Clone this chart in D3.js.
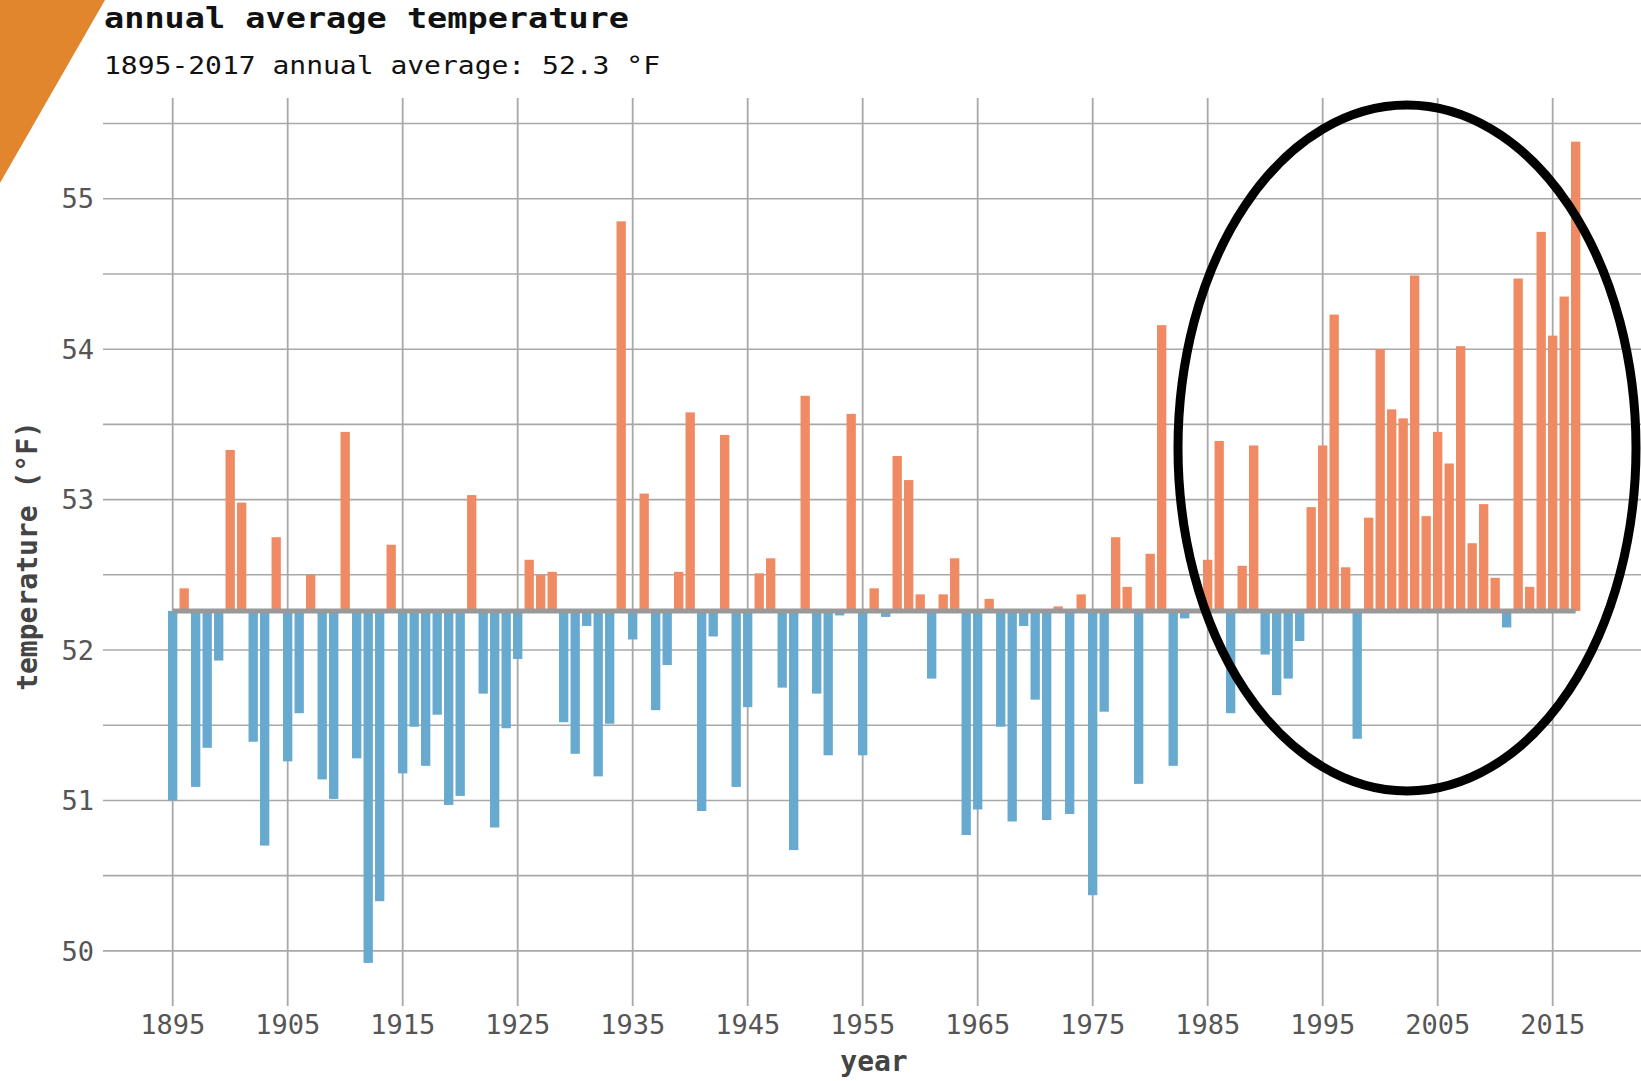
<!DOCTYPE html>
<html>
<head>
<meta charset="utf-8">
<script src="https://cdn.jsdelivr.net/npm/d3@7"></script>
<style>
  body { margin: 0; background: #fff; }
  svg { display: block; }
  text { font-family: "DejaVu Sans Mono", monospace; }
</style>
</head>
<body>
<div id="chart"></div>
<script>
// data
var years = d3.range(1895, 2018);
var temps = [
  51.00, 52.41, 51.09, 51.35, 51.93, 53.33, 52.98, 51.39, 50.70, 52.75,
  51.26, 51.58, 52.50, 51.14, 51.01, 53.45, 51.28, 49.92, 50.33, 52.70,
  51.18, 51.49, 51.23, 51.57, 50.97, 51.03, 53.03, 51.71, 50.82, 51.48,
  51.94, 52.60, 52.50, 52.52, 51.52, 51.31, 52.16, 51.16, 51.51, 54.85,
  52.07, 53.04, 51.60, 51.90, 52.52, 53.58, 50.93, 52.09, 53.43, 51.09,
  51.62, 52.51, 52.61, 51.75, 50.67, 53.69, 51.71, 51.30, 52.23, 53.57,
  51.30, 52.41, 52.22, 53.29, 53.13, 52.37, 51.81, 52.37, 52.61, 50.77,
  50.94, 52.34, 51.49, 50.86, 52.16, 51.67, 50.87, 52.29, 50.91, 52.37,
  50.37, 51.59, 52.75, 52.42, 51.11, 52.64, 54.16, 51.23, 52.21, 52.26,
  52.60, 53.39, 51.58, 52.56, 53.36, 51.97, 51.70, 51.81, 52.06, 52.95,
  53.36, 54.23, 52.55, 51.41, 52.88, 54.00, 53.60, 53.54, 54.49, 52.89,
  53.45, 53.24, 54.02, 52.71, 52.97, 52.48, 52.15, 54.47, 52.42, 54.78,
  54.09, 54.35, 55.38
];
var average = 52.26;
var xTicks = [1895, 1905, 1915, 1925, 1935, 1945, 1955, 1965, 1975, 1985, 1995, 2005, 2015];
var yTicks = [50, 51, 52, 53, 54, 55];
var yGrid = [50, 50.5, 51, 51.5, 52, 52.5, 53, 53.5, 54, 54.5, 55, 55.5];

var svgWidth = 1641;
var svgHeight = 1081;

var plot = { left: 103, right: 1641, top: 98, bottom: 1006 };

var svg = d3.select("#chart")
  .append("svg")
  .attr("width", svgWidth)
  .attr("height", svgHeight);

var xScale = d3.scaleLinear()
  .domain([1888.94, 2022.68])
  .range([plot.left, plot.right]);

var yScale = d3.scaleLinear()
  .domain([49.64, 55.67])
  .range([1005, plot.top]);

var barWidth = (xScale(1) - xScale(0)) * 0.81;

// grid
var gridGroup = svg.append("g");

gridGroup.selectAll(".hgrid")
  .data(yGrid)
  .enter()
  .append("line")
  .attr("x1", plot.left)
  .attr("x2", plot.right)
  .attr("y1", d => yScale(d))
  .attr("y2", d => yScale(d))
  .attr("stroke", "#a8a8a8")
  .attr("stroke-width", 1.6);

gridGroup.selectAll(".vgrid")
  .data(xTicks)
  .enter()
  .append("line")
  .attr("x1", d => xScale(d))
  .attr("x2", d => xScale(d))
  .attr("y1", plot.top)
  .attr("y2", plot.bottom)
  .attr("stroke", "#a8a8a8")
  .attr("stroke-width", 1.8);

// bars, measured from the long-term average
svg.append("g").selectAll("rect")
  .data(years)
  .enter()
  .append("rect")
  .attr("x", (d, i) => xScale(d) - barWidth / 2)
  .attr("y", (d, i) => yScale(Math.max(temps[i], average)))
  .attr("width", barWidth)
  .attr("height", (d, i) => Math.abs(yScale(temps[i]) - yScale(average)))
  .attr("fill", (d, i) => temps[i] >= average ? "#ef8a62" : "#67a9cf");

// average line
svg.append("line")
  .attr("x1", xScale(years[0]))
  .attr("x2", xScale(years[years.length - 1]))
  .attr("y1", yScale(average))
  .attr("y2", yScale(average))
  .attr("stroke", "#999")
  .attr("stroke-width", 5);

// tick labels
svg.append("g").selectAll("text")
  .data(xTicks)
  .enter()
  .append("text")
  .attr("x", d => xScale(d))
  .attr("y", 1034)
  .attr("text-anchor", "middle")
  .attr("font-size", 27)
  .attr("fill", "#555")
  .text(d => d);

svg.append("g").selectAll("text")
  .data(yTicks)
  .enter()
  .append("text")
  .attr("x", 94)
  .attr("y", d => yScale(d))
  .attr("dy", "0.36em")
  .attr("text-anchor", "end")
  .attr("font-size", 27)
  .attr("fill", "#555")
  .text(d => d);

// axis titles
svg.append("text")
  .attr("x", 874)
  .attr("y", 1071)
  .attr("text-anchor", "middle")
  .attr("font-size", 28)
  .attr("font-weight", "bold")
  .attr("fill", "#444")
  .text("year");

svg.append("text")
  .attr("transform", "translate(37, 556) rotate(-90)")
  .attr("text-anchor", "middle")
  .attr("font-size", 28)
  .attr("font-weight", "bold")
  .attr("fill", "#444")
  .text("temperature (°F)");

// circled recent years
svg.append("ellipse")
  .attr("cx", 1407)
  .attr("cy", 448)
  .attr("rx", 229)
  .attr("ry", 343)
  .attr("fill", "none")
  .attr("stroke", "#000")
  .attr("stroke-width", 9);

// orange corner
svg.append("polygon")
  .attr("points", "0,0 105,0 0,183")
  .attr("fill", "#e1862d");

// titles
svg.append("text")
  .attr("x", 104)
  .attr("y", 28)
  .attr("font-size", 28)
  .attr("font-weight", "bold")
  .attr("fill", "#111")
  .attr("textLength", 525)
  .attr("lengthAdjust", "spacingAndGlyphs")
  .text("annual average temperature");

svg.append("text")
  .attr("x", 104)
  .attr("y", 74)
  .attr("font-size", 25)
  .attr("fill", "#111")
  .attr("textLength", 556)
  .attr("lengthAdjust", "spacingAndGlyphs")
  .text("1895-2017 annual average: 52.3 °F");
</script>
</body>
</html>
